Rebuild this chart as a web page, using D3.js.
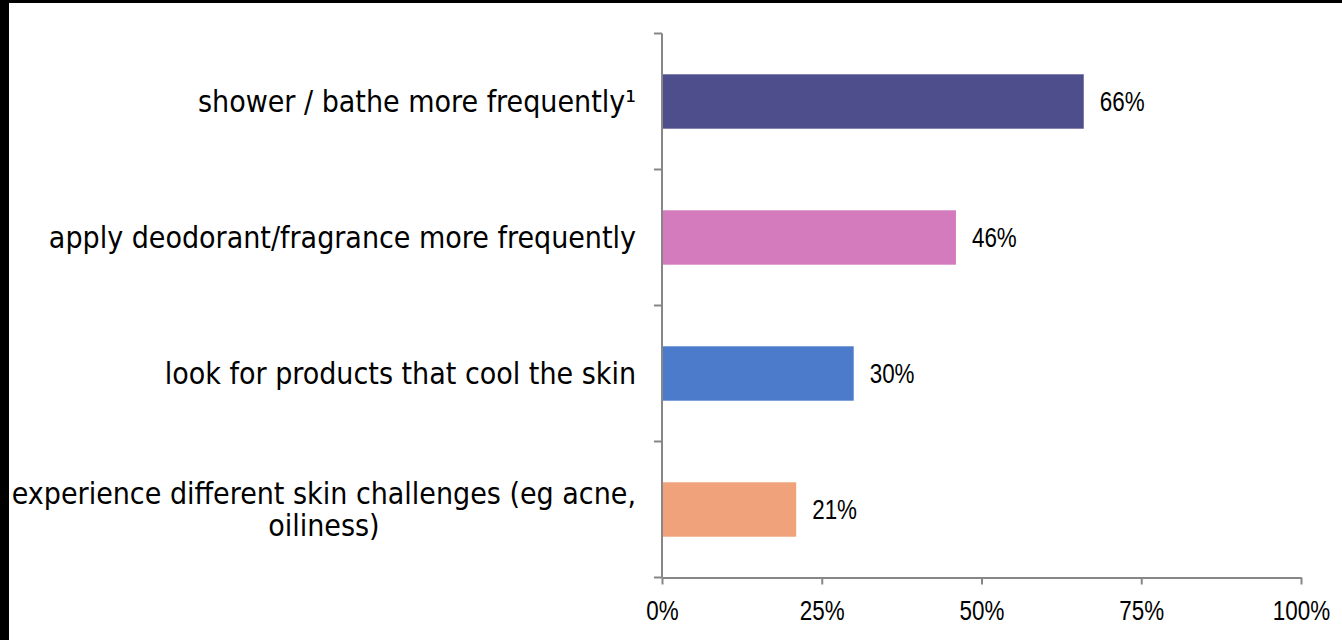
<!DOCTYPE html>
<html>
<head>
<meta charset="utf-8">
<script src="https://cdn.jsdelivr.net/npm/d3@7"></script>
<style>
  html, body { margin: 0; padding: 0; background: #fff; }
  svg { display: block; }
</style>
</head>
<body>
<svg id="chart" width="1342" height="640"></svg>
<script>
const categories = [
  ["shower / bathe more frequently\u00B9"],
  ["apply deodorant/fragrance more frequently"],
  ["look for products that cool the skin"],
  ["experience different skin challenges (eg acne,", "oiliness)"]
];
const values = [66, 46, 30, 21];
const colors = ["#4F4E8D", "#D37BBD", "#4B7BCA", "#F0A27A"];
const xTickValues = [0, 25, 50, 75, 100];
const xTickLabels = ["0%", "25%", "50%", "75%", "100%"];

(function () {
const svg = d3.select("#chart");
const W = 1342, H = 640;
const mLeft = 662, mRight = 1301, mTop = 33.5, mBottom = 577.5;
const catFont = "'DejaVu Sans Condensed', 'DejaVu Sans', sans-serif";
const numFont = "'Liberation Sans', Arial, sans-serif";
const numScale = "scale(0.83,1)";
const axisColor = "#878787";

svg.append("rect").attr("width", W).attr("height", H).attr("fill", "#fff");

const idx = categories.map((d, i) => i);
const x = d3.scaleLinear().domain([0, 100]).range([mLeft, mRight]);
const y = d3.scaleBand().domain(idx).range([mTop, mBottom]).paddingInner(0.6).paddingOuter(0.3);
const yEdge = d3.scaleLinear().domain([0, categories.length]).range([mTop, mBottom]);

// bars
svg.selectAll("rect.bar").data(values).join("rect")
  .attr("class", "bar")
  .attr("x", x(0) + 1)
  .attr("y", (d, i) => y(i))
  .attr("width", d => x(d) - x(0) - 1)
  .attr("height", y.bandwidth())
  .attr("fill", (d, i) => colors[i]);

// value labels
const vg = svg.selectAll("g.val").data(values).join("g")
  .attr("class", "val")
  .attr("transform", (d, i) => `translate(${x(d) + 16},${y(i) + y.bandwidth() / 2})`);
vg.append("text")
  .attr("transform", numScale)
  .attr("dy", "0.36em")
  .attr("font-family", numFont)
  .attr("font-size", 27)
  .attr("fill", "#000")
  .text(d => d + "%");

// y axis line and boundary ticks
const yTicks = d3.range(categories.length + 1);
svg.append("line")
  .attr("x1", mLeft).attr("x2", mLeft)
  .attr("y1", yEdge(0)).attr("y2", yEdge(categories.length))
  .attr("stroke", axisColor).attr("stroke-width", 2);
svg.selectAll("line.ytick").data(yTicks).join("line")
  .attr("class", "ytick")
  .attr("x1", mLeft - 8).attr("x2", mLeft)
  .attr("y1", d => yEdge(d)).attr("y2", d => yEdge(d))
  .attr("stroke", axisColor).attr("stroke-width", 2);

// x axis
const xAxis = d3.axisBottom(x)
  .tickValues(xTickValues)
  .tickFormat((d, i) => xTickLabels[i])
  .tickSize(7)
  .tickSizeOuter(0)
  .tickPadding(16);
const gx = svg.append("g").attr("transform", `translate(0,${mBottom})`).call(xAxis);
gx.select(".domain").attr("stroke", axisColor).attr("stroke-width", 2);
gx.selectAll(".tick line").attr("stroke", axisColor).attr("stroke-width", 2);
gx.selectAll(".tick text")
  .attr("transform", numScale)
  .attr("font-family", numFont)
  .attr("font-size", 27)
  .attr("fill", "#000")
  .attr("dy", "0.71em");

// category labels
const labelRight = 636;
const lineH = 32;
categories.forEach((lines, i) => {
  const g = svg.append("text")
    .attr("font-family", catFont)
    .attr("font-size", 30)
    .attr("fill", "#000");
  const cy = y(i) + y.bandwidth() / 2;
  const n = lines.length;
  const spans = lines.map((t, j) => g.append("tspan")
    .attr("y", cy + (j - (n - 1) / 2) * lineH)
    .attr("dy", "0.36em")
    .text(t));
  if (n === 1) {
    g.attr("text-anchor", "end");
    spans[0].attr("x", labelRight);
  } else {
    const widths = spans.map(s => s.node().getComputedTextLength());
    const maxW = Math.max(...widths);
    g.attr("text-anchor", "middle");
    spans.forEach(s => s.attr("x", labelRight - maxW / 2));
  }
});

// frame edges (black border top and left)
svg.append("rect").attr("x", 0).attr("y", 0).attr("width", W).attr("height", 3).attr("fill", "#000");
svg.append("rect").attr("x", 0).attr("y", 0).attr("width", 9).attr("height", H).attr("fill", "#000");
})();
</script>
</body>
</html>
